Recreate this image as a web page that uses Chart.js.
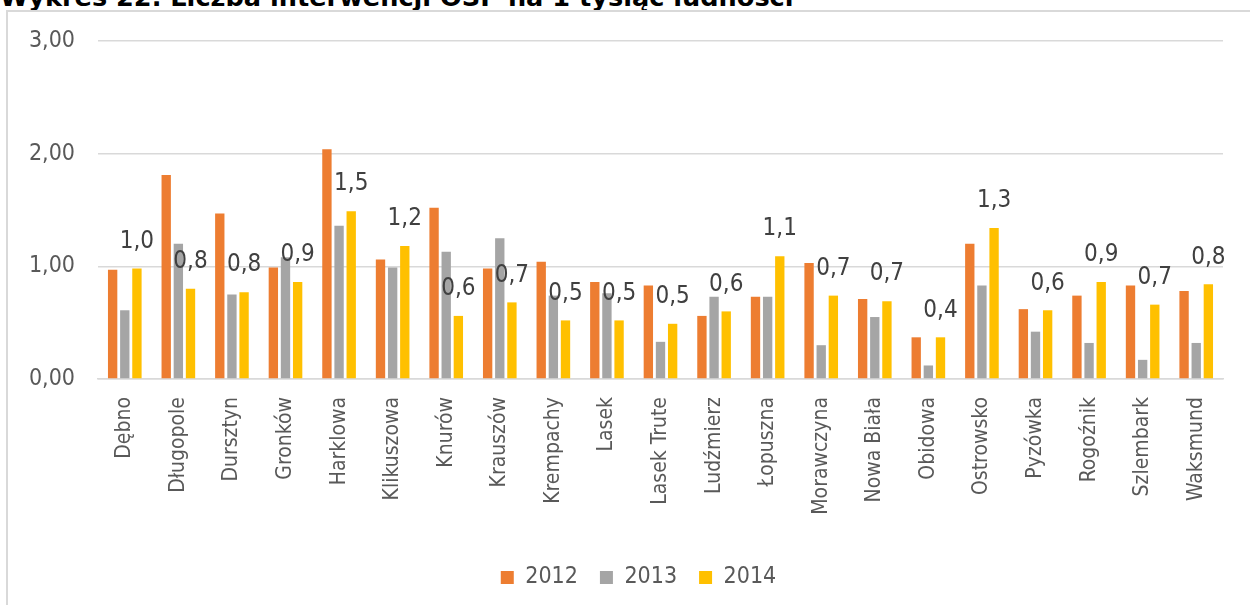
<!DOCTYPE html>
<html lang="pl">
<head>
<meta charset="utf-8">
<title>Wykres 22</title>
<script src="https://cdn.jsdelivr.net/npm/chart.js@4.4.1/dist/chart.umd.min.js"></script>
<style>
  html, body { margin: 0; padding: 0; background: #fff; overflow: hidden; }
  #tytul {
    position: absolute; left: 0; top: -15px;
    font: bold 25.6px "DejaVu Sans", Verdana, sans-serif;
    line-height: 25px; color: #000; white-space: nowrap;
  }
  #ramka {
    position: absolute; left: 6px; top: 10px; width: 1300px; height: 700px;
    border-left: 2px solid #d9d9d9; border-top: 2px solid #d9d9d9;
  }
  #wykres { position: absolute; left: 0; top: 0; width: 1250px; height: 605px; }
</style>
</head>
<body>
<div id="tytul">Wykres 22. Liczba interwencji OSP na 1 tysiąc ludności</div>
<div id="ramka"></div>
<div id="wykres"><canvas id="bar-chart-osp"></canvas></div>
<script>
  // sołectwa
  const labels = ["Dębno", "Długopole", "Dursztyn", "Gronków", "Harklowa", "Klikuszowa",
    "Knurów", "Krauszów", "Krempachy", "Lasek", "Lasek Trute", "Ludźmierz", "Łopuszna",
    "Morawczyna", "Nowa Biała", "Obidowa", "Ostrowsko", "Pyzówka", "Rogoźnik",
    "Szlembark", "Waksmund"];

  const lata = ["2012", "2013", "2014"];

  const wartosci2012 = [0.97, 1.81, 1.47, 0.99, 2.04, 1.06, 1.52, 0.98, 1.04, 0.86, 0.83,
    0.56, 0.73, 1.03, 0.71, 0.37, 1.20, 0.62, 0.74, 0.83, 0.78];
  const wartosci2013 = [0.61, 1.20, 0.75, 1.08, 1.36, 0.99, 1.13, 1.25, 0.74, 0.76, 0.33,
    0.73, 0.73, 0.30, 0.55, 0.12, 0.83, 0.42, 0.32, 0.17, 0.32];
  const wartosci2014 = [0.98, 0.80, 0.77, 0.86, 1.49, 1.18, 0.56, 0.68, 0.52, 0.52, 0.49,
    0.60, 1.09, 0.74, 0.69, 0.37, 1.34, 0.61, 0.86, 0.66, 0.84];

  const yTicks = [0, 1, 2, 3];

  const paletaColor = ["#ED7D31", "#A5A5A5", "#FFC000"];
  const fuente = '"DejaVu Sans Condensed", "DejaVu Sans", Tahoma, sans-serif';

  const coma = (v, d) => v.toFixed(d).replace(".", ",");

  // etykiety tylko dla serii 2014, nad słupkiem
  const etykiety2014 = {
    id: 'etykiety2014',
    afterDatasetsDraw(chart) {
      const ctx = chart.ctx;
      const meta = chart.getDatasetMeta(2);
      ctx.save();
      ctx.font = '24px ' + fuente;
      ctx.fillStyle = '#404040';
      ctx.textAlign = 'center';
      ctx.textBaseline = 'middle';
      meta.data.forEach((bar, i) => {
        ctx.fillText(coma(wartosci2014[i], 1), bar.x, bar.y - 27);
      });
      ctx.restore();
    }
  };

  // legenda przesunięta w prawo, środek pod całą ramką
  const przesunLegende = {
    id: 'przesunLegende',
    afterLayout(chart) {
      const lg = chart.legend;
      if (lg) { lg.left += 22; lg.right += 22; }
    }
  };

  new Chart(document.getElementById("bar-chart-osp"), {
    type: 'bar',
    data: {
      labels: labels,
      datasets: [
        { label: lata[0], data: wartosci2012, backgroundColor: paletaColor[0] },
        { label: lata[1], data: wartosci2013, backgroundColor: paletaColor[1] },
        { label: lata[2], data: wartosci2014, backgroundColor: paletaColor[2] }
      ]
    },
    plugins: [etykiety2014, przesunLegende],
    options: {
      responsive: true,
      maintainAspectRatio: false,
      animation: false,
      categoryPercentage: 0.68,
      barPercentage: 0.77,
      layout: { padding: { top: 41, bottom: 6, left: 10, right: 27 } },
      scales: {
        x: {
          grid: { display: false, drawTicks: false },
          border: { color: '#d9d9d9', width: 1.5 },
          ticks: {
            color: '#595959',
            font: { family: fuente, size: 21 },
            maxRotation: 90, minRotation: 90,
            padding: 18,
            autoSkip: false
          },
          afterFit(scale) { scale.height = 165; }
        },
        y: {
          min: 0, max: 3,
          afterBuildTicks(scale) { scale.ticks = yTicks.map(v => ({ value: v })); },
          grid: { color: '#d9d9d9', lineWidth: 1.5, drawTicks: false },
          border: { display: false },
          ticks: {
            color: '#595959',
            font: { family: fuente, size: 23 },
            padding: 23,
            callback: v => coma(v, 2)
          },
          afterFit(scale) { scale.width = 88; }
        }
      },
      plugins: {
        legend: {
          position: 'bottom',
          labels: {
            color: '#595959',
            font: { family: fuente, size: 23 },
            boxWidth: 13, boxHeight: 13,
            padding: 22
          }
        },
        tooltip: { enabled: false }
      }
    }
  });
</script>
</body>
</html>
